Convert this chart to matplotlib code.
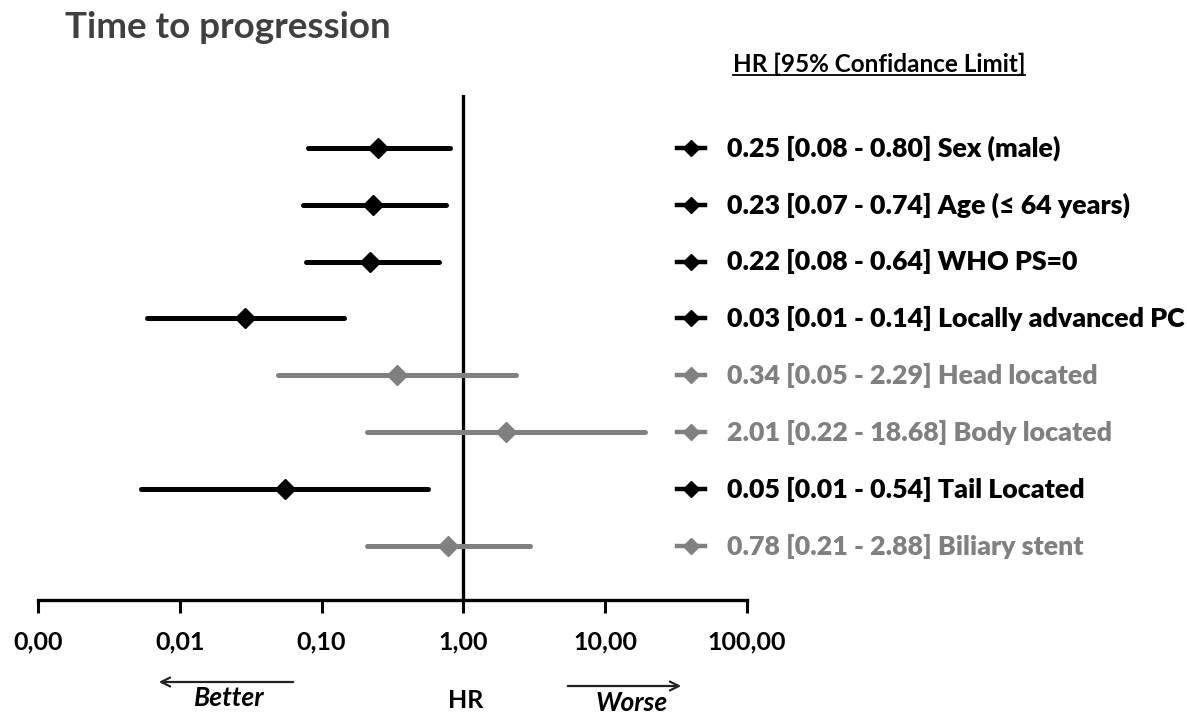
import numpy as np
import matplotlib
matplotlib.use("Agg")
import matplotlib.pyplot as plt
from matplotlib.transforms import blended_transform_factory

plt.rcParams['font.family'] = ['Lato', 'DejaVu Sans']

# Data (positions as drawn, labels as printed)
labels = [
    "0.25 [0.08 - 0.80] Sex (male)",
    "0.23 [0.07 - 0.74] Age (\u2264 64 years)",
    "0.22 [0.08 - 0.64] WHO PS=0",
    "0.03 [0.01 - 0.14] Locally advanced PC",
    "0.34 [0.05 - 2.29] Head located",
    "2.01 [0.22 - 18.68] Body located",
    "0.05 [0.01 - 0.54] Tail Located",
    "0.78 [0.21 - 2.88] Biliary stent",
]
hr = [0.25, 0.23, 0.22, 0.029, 0.34, 2.01, 0.055, 0.78]
lower = [0.08, 0.074, 0.077, 0.0059, 0.049, 0.21, 0.0053, 0.21]
upper = [0.80, 0.76, 0.67, 0.145, 2.35, 19.0, 0.56, 2.95]
significant = [True, True, True, True, False, False, True, False]

tick_vals = [0.001, 0.01, 0.1, 1, 10, 100]
tick_labels = ["0,00", "0,01", "0,10", "1,00", "10,00", "100,00"]

BLACK = "#000000"
GRAY = "#808080"

fig = plt.figure(figsize=(11.87, 7.17), dpi=100)
ax = fig.add_axes([38 / 1187, 1 - 600 / 717, (747 - 38) / 1187, (600 - 95) / 717])

n = len(labels)
ypos = np.arange(n, 0, -1)

for i in range(n):
    c = BLACK if significant[i] else GRAY
    ax.plot([lower[i], upper[i]], [ypos[i], ypos[i]], color=c, lw=3.6,
            solid_capstyle='round', zorder=3)
    ax.plot(hr[i], ypos[i], marker='D', color=c, markersize=10, zorder=4)

ax.axvline(1, color=BLACK, lw=2.4, zorder=2)

ax.set_xscale('log')
ax.set_xlim(0.001, 100)
ax.set_ylim(0.05, 8.93)
ax.set_xticks(tick_vals)
ax.set_xticklabels(tick_labels)
ax.minorticks_off()
ax.set_yticks([])
for s in ['top', 'right', 'left']:
    ax.spines[s].set_visible(False)
ax.spines['bottom'].set_linewidth(2.4)
ax.tick_params(axis='x', length=9, width=2.2, pad=13, labelsize=18)
for t in ax.get_xticklabels():
    t.set_fontweight('bold')

# legend-like label column
tr = blended_transform_factory(ax.transAxes, ax.transData)
hx0 = (677 - 38) / 709
hx1 = (705 - 38) / 709
tx = (727 - 38) / 709
for i in range(n):
    c = BLACK if significant[i] else GRAY
    ax.plot([hx0, hx1], [ypos[i], ypos[i]], transform=tr, color=c, lw=3.2,
            clip_on=False, zorder=5)
    ax.plot([(hx0 + hx1) / 2], [ypos[i]], transform=tr, marker='D', color=c,
            markersize=8, clip_on=False, zorder=6)
    ax.text(tx, ypos[i], labels[i], transform=tr, color=c, fontsize=19.3,
            fontweight='heavy', va='center', ha='left', clip_on=False)

# title and header
fig.text(65 / 1187, 1 - 27 / 717, "Time to progression", fontsize=26.5,
         fontweight='bold', color="#404040", va='center', ha='left')
hdr = fig.text(733 / 1187, 1 - 64 / 717, "HR [95% Confidance Limit]", fontsize=17.5,
               fontweight='bold', color=BLACK, va='center', ha='left')
fig.canvas.draw()
bb = hdr.get_window_extent().transformed(fig.transFigure.inverted())
fig.add_artist(plt.Line2D([bb.x0, bb.x1], [bb.y0 + 0.001, bb.y0 + 0.001],
                          color=BLACK, lw=1.3, transform=fig.transFigure))

# bottom annotations
fig.patches.append(matplotlib.patches.FancyArrowPatch(
    (296 / 1187, 1 - 682 / 717), (156 / 1187, 1 - 682 / 717),
    transform=fig.transFigure, arrowstyle='->', mutation_scale=16, lw=1.6, color="#222222"))
fig.patches.append(matplotlib.patches.FancyArrowPatch(
    (565 / 1187, 1 - 686 / 717), (684 / 1187, 1 - 686 / 717),
    transform=fig.transFigure, arrowstyle='->', mutation_scale=16, lw=1.6, color="#222222"))
fig.text(229 / 1187, 1 - 698 / 717, "Better", fontsize=19, fontweight='bold',
         style='italic', ha='center', va='center')
fig.text(632 / 1187, 1 - 703 / 717, "Worse", fontsize=19, fontweight='bold',
         style='italic', ha='center', va='center')
fig.text(466 / 1187, 1 - 700 / 717, "HR", fontsize=18, fontweight='bold',
         ha='center', va='center')

fig.savefig("out.png", dpi=100)
